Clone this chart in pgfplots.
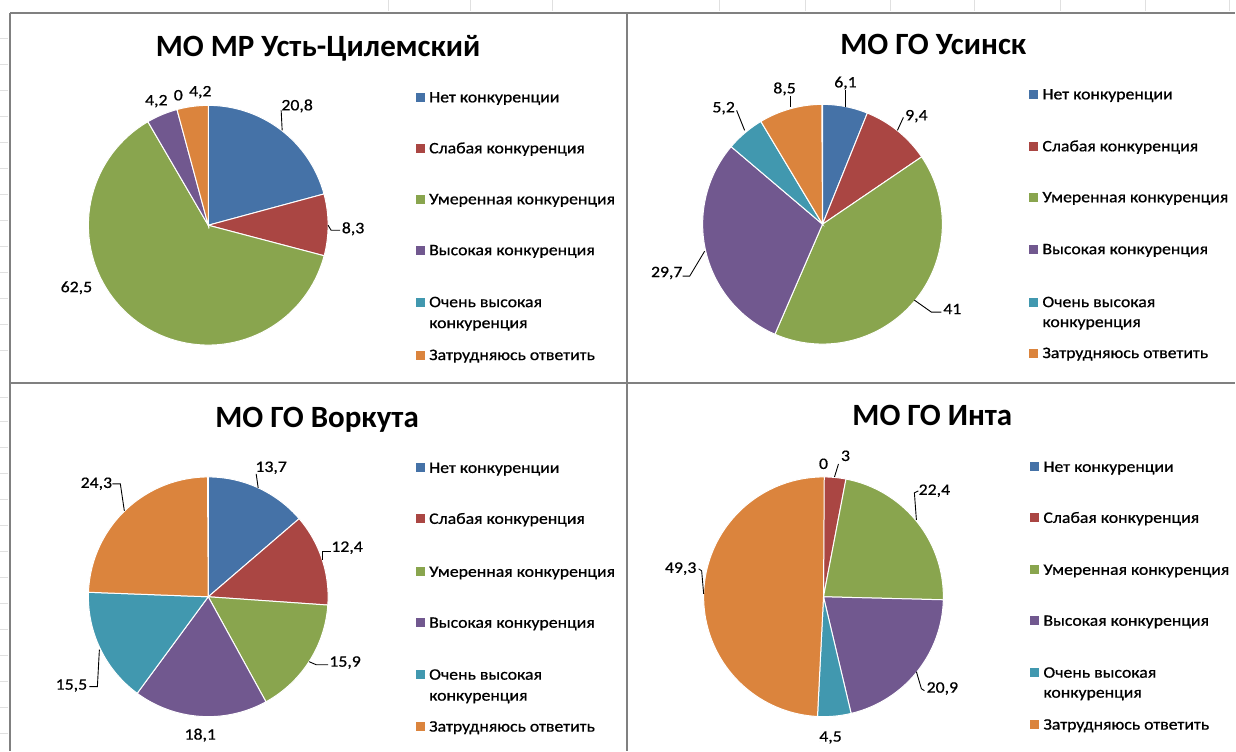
\documentclass[border=0pt]{standalone}
\usepackage{fontspec}
\setmainfont{Carlito}
\newfontfamily\lgfamily[FakeBold=0.6]{Carlito}
\usepackage{graphicx}
\usepackage{pgfplots}
\usepackage{pgfplotstable}
\pgfplotsset{compat=1.18}

\definecolor{c0}{RGB}{69,114,167}
\definecolor{c1}{RGB}{170,70,67}
\definecolor{c2}{RGB}{137,165,78}
\definecolor{c3}{RGB}{113,88,143}
\definecolor{c4}{RGB}{65,152,175}
\definecolor{c5}{RGB}{219,132,61}
\definecolor{frame}{RGB}{128,128,128}

% shares, in category order: Нет, Слабая, Умеренная, Высокая, Очень высокая, Затрудняюсь
\pgfplotstableread{
idx value
0 20.8
1 8.3
2 62.5
3 4.2
4 0
5 4.2
}\tabUst
\pgfplotstableread{
idx value
0 6.1
1 9.4
2 41
3 29.7
4 5.2
5 8.5
}\tabUsinsk
\pgfplotstableread{
idx value
0 13.7
1 12.4
2 15.9
3 18.1
4 15.5
5 24.3
}\tabVorkuta
\pgfplotstableread{
idx value
0 0
1 3
2 22.4
3 20.9
4 4.5
5 49.3
}\tabInta

\newcommand\lgfont{\lgfamily\fontsize{16bp}{19bp}\selectfont}
\newcommand\ttfont{\fontsize{31bp}{37bp}\selectfont\bfseries}
\newcommand\sx[1]{\scalebox{1.11}[1]{#1}}

% #1 table, #2 cx, #3 cy (pixel coords, y downwards)
\newcommand\drawpie[3]{%
  \def\cumval{0}%
  \pgfplotsforeachungrouped \i in {0,...,5}{%
    \pgfplotstablegetelem{\i}{value}\of#1%
    \let\vv\pgfplotsretval
    \pgfmathsetmacro\angA{\cumval*3.6}%
    \pgfmathsetmacro\cumval{\cumval+\vv}%
    \pgfmathsetmacro\angB{\cumval*3.6}%
    \ifdim\vv pt>0pt
      \edef\cmd{\noexpand\addplot[fill=c\i, draw=white, line width=1bp, domain=\angA:\angB, samples=80, forget plot] ({#2+120*sin(x)},{#3-120*cos(x)}) -- (axis cs:#2,#3) -- cycle;}%
      \cmd
    \fi
  }%
}

\newcommand\lentry[4]{% color, xsq, y, text
  \fill[#1] (axis cs:#2,#3-4.5) rectangle (axis cs:#2+9,#3+4.5);
  \node[anchor=base west,font=\lgfont,inner sep=0pt] at (axis cs:#2+13,#3+5) {\sx{#4}};
}
\newcommand\legendblock[8]{% xsq, y1..y7
  \lentry{c0}{#1}{#2}{Нет конкуренции}
  \lentry{c1}{#1}{#3}{Слабая конкуренция}
  \lentry{c2}{#1}{#4}{Умеренная конкуренция}
  \lentry{c3}{#1}{#5}{Высокая конкуренция}
  \lentry{c4}{#1}{#6}{Очень высокая}
  \node[anchor=base west,font=\lgfont,inner sep=0pt] at (axis cs:#1+13,#7+5) {\sx{конкуренция}};
  \lentry{c5}{#1}{#8}{Затрудняюсь ответить}
}
\newcommand\dlabel[3]{% x, baseline y, text
  \node[anchor=base,font=\lgfont,inner sep=0pt] at (axis cs:#1,#2) {\sx{#3}};
}

\begin{document}
\begin{tikzpicture}
\begin{axis}[
  width=1236bp, height=751bp, scale only axis,
  xmin=0, xmax=1236, ymin=0, ymax=751,
  y dir=reverse, hide axis, clip=false,
]
\fill[white] (axis cs:0,0) rectangle (axis cs:1236,751);
% faint spreadsheet grid
\pgfplotsinvokeforeach{388,471,553,720,806,891,975,1061,1146,1230}{
  \draw[black!12, line width=1bp] (axis cs:#1,0) -- (axis cs:#1,11);
}
\pgfplotsinvokeforeach{38,64,90,116,142,168,194,220,246,272,298,324,350,397,422,448,474,500,526,552,578,604,630,656,682,708,734}{
  \draw[black!12, line width=1bp] (axis cs:0,#1) -- (axis cs:8,#1);
}

% pies
\drawpie{\tabUst}{208}{225}
\drawpie{\tabUsinsk}{823}{224}
\drawpie{\tabVorkuta}{208}{597}
\drawpie{\tabInta}{824}{597}

% panel frames
\draw[frame, line width=2bp] (axis cs:10,13) -- (axis cs:1236,13);
\draw[frame, line width=2bp] (axis cs:10,383) -- (axis cs:1236,383);
\draw[frame, line width=2bp] (axis cs:10,13) -- (axis cs:10,751);
\draw[frame, line width=2bp] (axis cs:627,13) -- (axis cs:627,751);

% titles
\node[anchor=base,font=\ttfont,inner sep=0pt] at (axis cs:318,56) {МО МР Усть-Цилемский};
\node[anchor=base,font=\ttfont,inner sep=0pt] at (axis cs:934,54) {МО ГО Усинск};
\node[anchor=base,font=\ttfont,inner sep=0pt] at (axis cs:317,428) {МО ГО Воркута};
\node[anchor=base,font=\ttfont,inner sep=0pt] at (axis cs:933,426) {МО ГО Инта};

% legends
\legendblock{416}{97}{148}{199}{250}{302}{323}{355}
\legendblock{1030}{94}{146}{197}{249}{302}{322}{353}
\legendblock{416}{468}{519}{572}{623}{675}{696}{727}
\legendblock{1031}{467}{518}{570}{621}{673}{693}{725}

% data labels and leader lines
\begin{scope}[black, line width=0.9bp]
% Усть-Цилемский
\dlabel{297}{110}{20,8}
\draw (axis cs:282,130) -- (axis cs:281,110);
\dlabel{353}{233}{8,3}
\draw (axis cs:328,225) -- (axis cs:331,230) -- (axis cs:340,230);
\dlabel{76}{292}{62,5}
\dlabel{156}{105}{4,2}
\dlabel{178}{100}{0}
\dlabel{200}{96}{4,2}
% Усинск
\dlabel{846}{87}{6,1}
\draw (axis cs:846,107) -- (axis cs:846,90);
\dlabel{917}{120}{9,4}
\draw (axis cs:898,130) -- (axis cs:904,117);
\dlabel{953}{314}{41}
\draw (axis cs:915,300) -- (axis cs:932,312) -- (axis cs:942,312);
\dlabel{667}{277}{29,7}
\draw (axis cs:683,276) -- (axis cs:690,276) -- (axis cs:705,251);
\dlabel{724}{112}{5,2}
\draw (axis cs:737,110) -- (axis cs:745,130);
\dlabel{785}{93}{8,5}
\draw (axis cs:791,96) -- (axis cs:791,107);
% Воркута
\dlabel{271}{472}{13,7}
\draw (axis cs:256,474) -- (axis cs:258,488);
\dlabel{347}{552}{12,4}
\draw (axis cs:331,552) -- (axis cs:322,552) -- (axis cs:322,560);
\dlabel{345}{667}{15,9}
\draw (axis cs:309,662) -- (axis cs:316,665) -- (axis cs:328,665);
\dlabel{200}{740}{18,1}
\dlabel{71}{690}{15,5}
\draw (axis cs:89,687) -- (axis cs:97,687) -- (axis cs:99,650);
\dlabel{96}{488}{24,3}
\draw (axis cs:112,484) -- (axis cs:120,484) -- (axis cs:124,511);
% Инта
\dlabel{824}{469}{0}
\dlabel{846}{461}{3}
\draw (axis cs:835,477) -- (axis cs:839,464);
\dlabel{935}{495}{22,4}
\draw (axis cs:917,520) -- (axis cs:915,493) -- (axis cs:919,491);
\dlabel{943}{693}{20,9}
\draw (axis cs:917,672) -- (axis cs:922,689) -- (axis cs:925,691);
\dlabel{831}{742}{4,5}
\dlabel{681}{573}{49,3}
\draw (axis cs:699,569) -- (axis cs:702,571) -- (axis cs:704,594);
\end{scope}
\end{axis}
\end{tikzpicture}
\end{document}
